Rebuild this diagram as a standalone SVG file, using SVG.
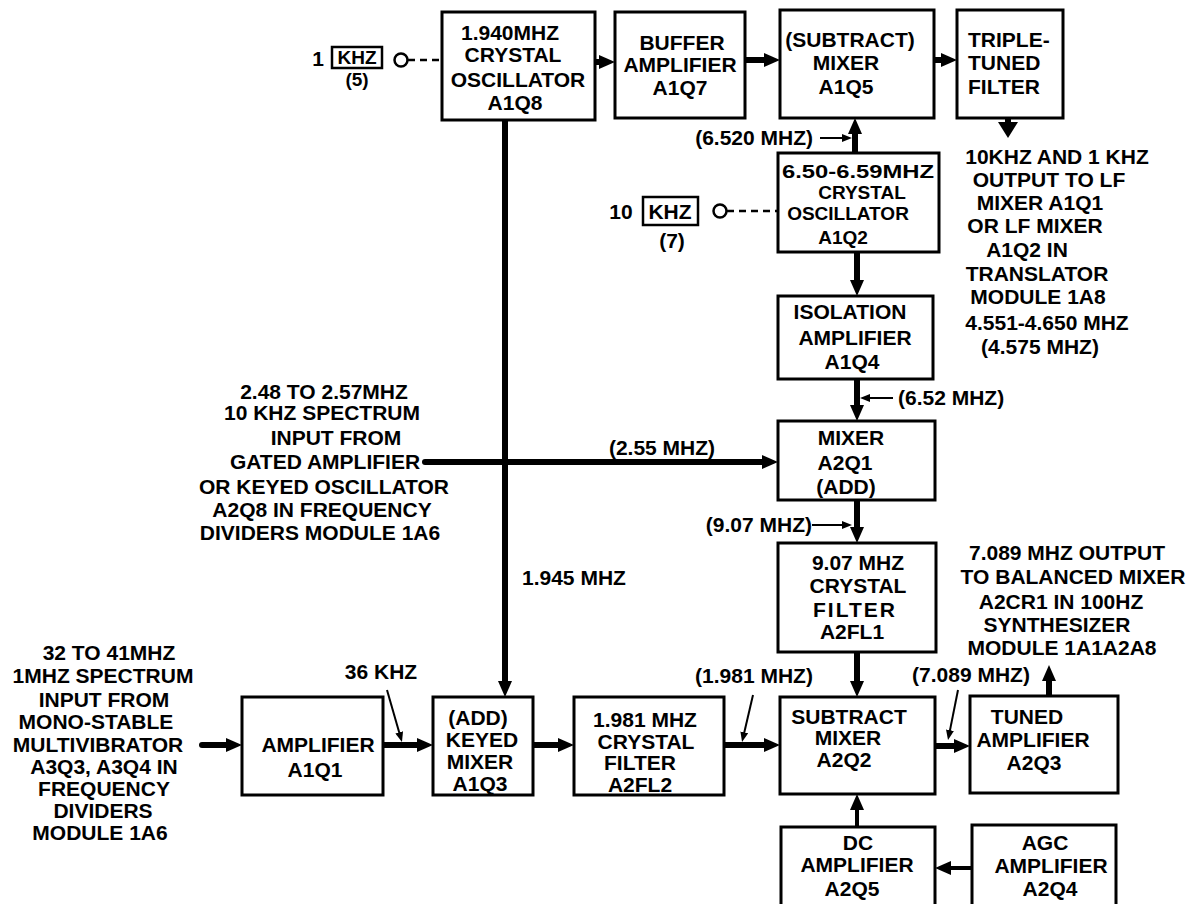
<svg xmlns="http://www.w3.org/2000/svg" width="1197" height="904" viewBox="0 0 1197 904">
<defs>
<style>
.box{fill:#fff;stroke:#000;stroke-width:3}
.t{font-family:"Liberation Sans",Arial,sans-serif;font-weight:bold;font-size:21px;fill:#000;text-anchor:middle}
.sm{font-size:19px}
.s{text-anchor:start}
.e{text-anchor:end}
.thick{stroke:#000;stroke-width:6;fill:none}
.med{stroke:#000;stroke-width:4;fill:none}
.thin{stroke:#000;stroke-width:2;fill:none}
.dash{stroke:#000;stroke-width:2.5;fill:none;stroke-dasharray:7 5}
</style>
<marker id="ah" markerWidth="16" markerHeight="14" refX="6" refY="7" orient="auto" markerUnits="userSpaceOnUse"><path d="M0,0 L16,7 L0,14 Z" fill="#000"/></marker>
<marker id="ahb" markerWidth="16" markerHeight="20" refX="4" refY="10" orient="auto" markerUnits="userSpaceOnUse"><path d="M0,0 L16,10 L0,20 Z" fill="#000"/></marker>
<marker id="ahs" markerWidth="10" markerHeight="8" refX="4" refY="4" orient="auto" markerUnits="userSpaceOnUse"><path d="M0,0 L10,4 L0,8 Z" fill="#000"/></marker>
</defs>
<rect width="1197" height="904" fill="#fff"/>

<g id="connectors">
<path class="thick" d="M596,62 H605" marker-end="url(#ah)"/>
<path class="thick" d="M745,60 H770" marker-end="url(#ah)"/>
<path class="thick" d="M934,60 H947" marker-end="url(#ah)"/>
<path class="thick" d="M1008,118 V126" marker-end="url(#ahb)"/>
<path class="thick" d="M855,153 V128" marker-end="url(#ah)"/>
<path class="thick" d="M857,252 V286" marker-end="url(#ah)"/>
<path class="thick" d="M857,379 V411" marker-end="url(#ah)"/>
<path class="thick" d="M425,462 H768" stroke-linecap="round" marker-end="url(#ah)"/>
<path class="thick" d="M857,500 V533" marker-end="url(#ah)"/>
<path class="thick" d="M857,652 V687" marker-end="url(#ah)"/>
<path class="thick" d="M505,120 V687" marker-end="url(#ah)"/>
<path class="thick" d="M202,745 H232" stroke-linecap="round" marker-end="url(#ah)"/>
<path class="thick" d="M383,745 H423" marker-end="url(#ah)"/>
<path class="thick" d="M533,745 H564" marker-end="url(#ah)"/>
<path class="thick" d="M724,745 H770" marker-end="url(#ah)"/>
<path class="thick" d="M935,746 H960" marker-end="url(#ah)"/>
<path class="thick" d="M1049,696 V675" marker-end="url(#ah)"/>
<path class="med" d="M857,827 V804" marker-end="url(#ah)"/>
<path class="med" d="M972,868 H945" marker-end="url(#ah)"/>
<path class="thin" d="M820,138 H846" marker-end="url(#ahs)"/>
<path class="thin" d="M893,398 H866" marker-end="url(#ahs)"/>
<path class="thin" d="M812,525 H846" marker-end="url(#ahs)"/>
<path class="thin" d="M387,690 L400.3,736.2" marker-end="url(#ahs)"/>
<path class="thin" d="M753,695 L743.4,736.2" marker-end="url(#ahs)"/>
<path class="thin" d="M958,690 L949.2,734.1" marker-end="url(#ahs)"/>
<path class="dash" d="M408,60 H442"/>
<path class="dash" d="M727,211 H778"/>
</g>

<g id="ref-1khz">
<text class="t" x="318" y="66">1</text>
<rect x="332" y="47" width="50" height="21" fill="#fff" stroke="#000" stroke-width="2.5"/>
<text class="t sm" x="357" y="64">KHZ</text>
<text class="t sm" x="357" y="86">(5)</text>
<circle cx="401" cy="60" r="6.5" fill="#fff" stroke="#000" stroke-width="2.5"/>
</g>
<g id="ref-10khz">
<text class="t" x="621" y="219">10</text>
<rect x="643" y="197" width="55" height="28" fill="#fff" stroke="#000" stroke-width="2.5"/>
<text class="t" x="670" y="219">KHZ</text>
<text class="t" x="672" y="248">(7)</text>
<circle cx="720" cy="211" r="6.5" fill="#fff" stroke="#000" stroke-width="2.5"/>
</g>

<g id="a1q8">
<rect class="box" x="442" y="12" width="153" height="108"/>
<text class="t" x="510" y="40">1.940MHZ</text>
<text class="t" x="513" y="62">CRYSTAL</text>
<text class="t" x="518" y="87">OSCILLATOR</text>
<text class="t" x="515" y="110">A1Q8</text>
</g>
<g id="a1q7">
<rect class="box" x="615" y="12" width="130" height="106"/>
<text class="t" x="682" y="50">BUFFER</text>
<text class="t" x="680" y="72">AMPLIFIER</text>
<text class="t" x="680" y="95">A1Q7</text>
</g>
<g id="a1q5">
<rect class="box" x="780" y="10" width="154" height="108"/>
<text class="t" x="850" y="47">(SUBTRACT)</text>
<text class="t" x="846" y="70">MIXER</text>
<text class="t" x="846" y="94">A1Q5</text>
</g>
<g id="triple">
<rect class="box" x="957" y="10" width="106" height="108"/>
<text class="t s" x="968" y="47">TRIPLE-</text>
<text class="t s" x="968" y="70">TUNED</text>
<text class="t s" x="968" y="94">FILTER</text>
</g>
<g id="out-lf">
<text class="t" x="1057" y="164">10KHZ AND 1 KHZ</text>
<text class="t" x="1049" y="187">OUTPUT  TO LF</text>
<text class="t" x="1040" y="210">MIXER A1Q1</text>
<text class="t" x="1035" y="233">OR LF MIXER</text>
<text class="t" x="1027" y="257">A1Q2 IN</text>
<text class="t" x="1037" y="281">TRANSLATOR</text>
<text class="t" x="1038" y="304">MODULE 1A8</text>
<text class="t" x="1047" y="330">4.551-4.650 MHZ</text>
<text class="t" x="1040" y="354">(4.575 MHZ)</text>
</g>
<g id="a1q2">
<rect class="box" x="778" y="153" width="161" height="99"/>
<text class="t sm" x="858" y="178" textLength="152" lengthAdjust="spacingAndGlyphs">6.50-6.59MHZ</text>
<text class="t sm" x="862" y="199">CRYSTAL</text>
<text class="t sm" x="848" y="220">OSCILLATOR</text>
<text class="t sm" x="843" y="244">A1Q2</text>
</g>
<text class="t e" x="813" y="145">(6.520 MHZ)</text>
<g id="a1q4">
<rect class="box" x="778" y="296" width="155" height="83"/>
<text class="t" x="850" y="319">ISOLATION</text>
<text class="t" x="855" y="345">AMPLIFIER</text>
<text class="t" x="852" y="369">A1Q4</text>
</g>
<text class="t s" x="898" y="405">(6.52 MHZ)</text>
<g id="in-mid">
<text class="t" x="324" y="399">2.48 TO 2.57MHZ</text>
<text class="t" x="322" y="420">10 KHZ  SPECTRUM</text>
<text class="t" x="336" y="445">INPUT FROM</text>
<text class="t" x="325" y="469">GATED AMPLIFIER</text>
<text class="t" x="324" y="494">OR KEYED OSCILLATOR</text>
<text class="t" x="322" y="517">A2Q8  IN  FREQUENCY</text>
<text class="t" x="320" y="540">DIVIDERS MODULE 1A6</text>
</g>
<text class="t" x="662" y="455">(2.55 MHZ)</text>
<g id="a2q1">
<rect class="box" x="778" y="421" width="157" height="79"/>
<text class="t" x="851" y="445">MIXER</text>
<text class="t" x="845" y="470">A2Q1</text>
<text class="t" x="846" y="494">(ADD)</text>
</g>
<text class="t e" x="812" y="532">(9.07 MHZ)</text>
<g id="a2fl1">
<rect class="box" x="778" y="543" width="158" height="109"/>
<text class="t" x="858" y="570">9.07 MHZ</text>
<text class="t" x="858" y="593">CRYSTAL</text>
<text class="t" x="855" y="617" letter-spacing="2">FILTER</text>
<text class="t" x="852" y="639">A2FL1</text>
</g>
<g id="out-bal">
<text class="t" x="1067" y="560">7.089 MHZ OUTPUT</text>
<text class="t" x="1073" y="584">TO BALANCED MIXER</text>
<text class="t" x="1061" y="609">A2CR1  IN  100HZ</text>
<text class="t" x="1057" y="632">SYNTHESIZER</text>
<text class="t" x="1062" y="655">MODULE 1A1A2A8</text>
</g>
<text class="t s" x="522" y="585">1.945 MHZ</text>
<g id="in-left">
<text class="t" x="109" y="660">32 TO 41MHZ</text>
<text class="t" x="103" y="683">1MHZ SPECTRUM</text>
<text class="t" x="104" y="707">INPUT FROM</text>
<text class="t" x="96" y="729">MONO-STABLE</text>
<text class="t" x="98" y="752">MULTIVIBRATOR</text>
<text class="t" x="104" y="774">A3Q3, A3Q4 IN</text>
<text class="t" x="104" y="796">FREQUENCY</text>
<text class="t" x="103" y="818">DIVIDERS</text>
<text class="t" x="100" y="840">MODULE 1A6</text>
</g>
<text class="t" x="381" y="679">36 KHZ</text>
<text class="t" x="754" y="683">(1.981 MHZ)</text>
<text class="t" x="971" y="682">(7.089 MHZ)</text>
<g id="a1q1">
<rect class="box" x="242" y="697" width="141" height="98"/>
<text class="t" x="318" y="752">AMPLIFIER</text>
<text class="t" x="315" y="777">A1Q1</text>
</g>
<g id="a1q3">
<rect class="box" x="433" y="697" width="100" height="98"/>
<text class="t" x="478" y="725">(ADD)</text>
<text class="t" x="482" y="747">KEYED</text>
<text class="t" x="480" y="769">MIXER</text>
<text class="t" x="480" y="791">A1Q3</text>
</g>
<g id="a2fl2">
<rect class="box" x="574" y="697" width="150" height="98"/>
<text class="t" x="645" y="727">1.981 MHZ</text>
<text class="t" x="646" y="749">CRYSTAL</text>
<text class="t" x="640" y="770">FILTER</text>
<text class="t" x="640" y="792">A2FL2</text>
</g>
<g id="a2q2">
<rect class="box" x="780" y="697" width="155" height="97"/>
<text class="t" x="849" y="724">SUBTRACT</text>
<text class="t" x="848" y="745">MIXER</text>
<text class="t" x="844" y="767">A2Q2</text>
</g>
<g id="a2q3">
<rect class="box" x="970" y="696" width="148" height="97"/>
<text class="t" x="1027" y="724">TUNED</text>
<text class="t" x="1033" y="747">AMPLIFIER</text>
<text class="t" x="1034" y="770">A2Q3</text>
</g>
<g id="a2q5">
<rect class="box" x="781" y="827" width="154" height="90"/>
<text class="t" x="858" y="850">DC</text>
<text class="t" x="857" y="872">AMPLIFIER</text>
<text class="t" x="852" y="896">A2Q5</text>
</g>
<g id="a2q4">
<rect class="box" x="972" y="825" width="144" height="92"/>
<text class="t" x="1045" y="850">AGC</text>
<text class="t" x="1051" y="873">AMPLIFIER</text>
<text class="t" x="1050" y="896">A2Q4</text>
</g>
</svg>
